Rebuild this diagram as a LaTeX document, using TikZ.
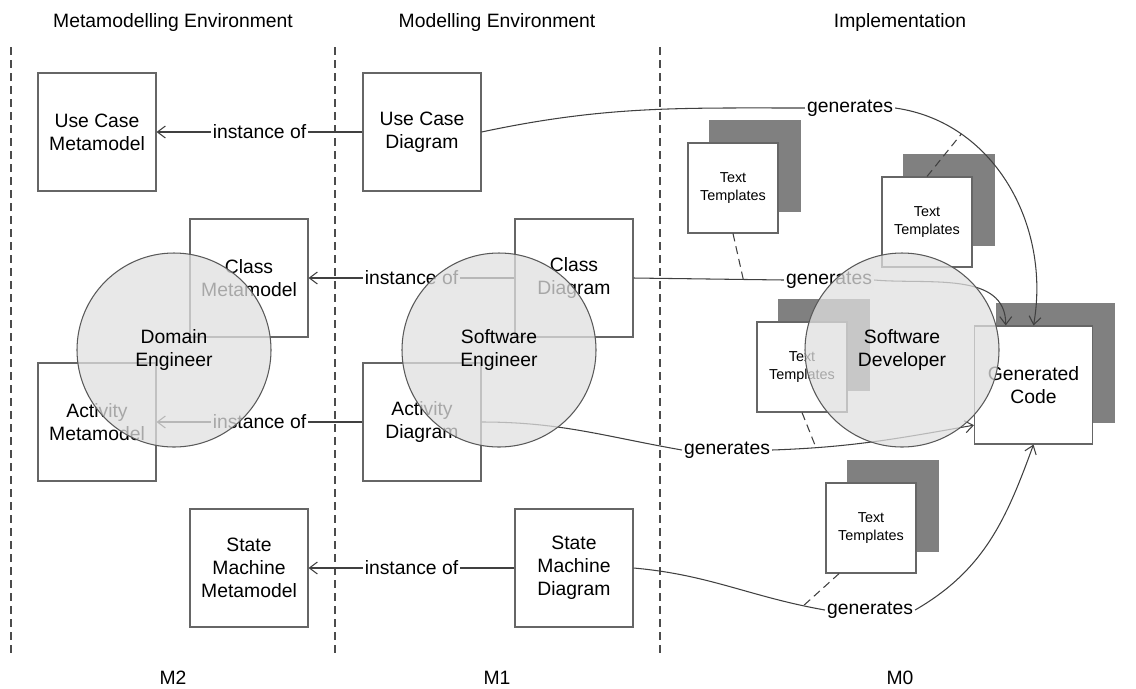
\documentclass[tikz,border=0pt]{standalone}
\usepackage{fontspec}
\setmainfont{Liberation Sans}
\usetikzlibrary{arrows.meta,shadows}
\tikzset{
    box/.style={rectangle, draw=black!60, fill=white, line width=0.6pt,
    	minimum size=2.36cm, inner sep=0pt, align=center,
    	font=\fontsize{11}{13}\selectfont}
}
\tikzset{
    tmpl/.style={rectangle, draw=black!60, fill=white, line width=0.6pt,
    	minimum size=1.8cm, inner sep=0pt, align=center,
    	font=\fontsize{8.2}{10.2}\selectfont,
    	copy shadow={shadow xshift=0.44cm, shadow yshift=0.44cm,
    		fill=black!50, draw=black!50}},
    codebox/.style={box,
    	copy shadow={shadow xshift=0.44cm, shadow yshift=0.44cm,
    		fill=black!50, draw=black!50}}
}
\tikzset{
    actor/.style={circle, draw=black!65, line width=0.6pt, fill=black!12,
    	fill opacity=0.75, text opacity=1, minimum size=3.88cm,
    	inner sep=0pt, align=center, font=\fontsize{11}{13}\selectfont},
    lbl/.style={fill=white, inner sep=1pt, font=\fontsize{11}{13}\selectfont},
    head/.style={inner sep=1pt, font=\fontsize{11}{13}\selectfont}
}
\tikzset{
    link/.style={draw=black!75, line width=0.6pt},
    tie/.style={draw=black!75, line width=0.6pt, dash pattern=on 1.6mm off 1mm},
    sep/.style={draw=black!70, line width=0.6pt, dash pattern=on 1.6mm off 1mm}
}

\begin{document}
\begin{tikzpicture}[>={Straight Barb[length=1.6mm,width=2.4mm]}]
	\useasboundingbox (0cm, 0cm) rectangle (22.72cm, -13.76cm);
	\foreach \x in {0.22, 6.70, 13.20}
		\draw[sep] (\x cm, -0.94cm) -- (\x cm, -13.06cm);

	\node (h2) [head] at ( 3.46cm,  -0.44cm) {Metamodelling Environment};
	\node (h1) [head] at ( 9.94cm,  -0.44cm) {Modelling Environment};
	\node (h0) [head] at (18.00cm,  -0.44cm) {Implementation};
	\node (m2) [head] at ( 3.46cm, -13.56cm) {M2};
	\node (m1) [head] at ( 9.94cm, -13.56cm) {M1};
	\node (m0) [head] at (18.00cm, -13.56cm) {M0};

	\node (ucm) [box] at ( 1.94cm,  -2.64cm) {Use Case\\Metamodel};
	\node (cm)  [box] at ( 4.98cm,  -5.56cm) {Class\\Metamodel};
	\node (am)  [box] at ( 1.94cm,  -8.44cm) {Activity\\Metamodel};
	\node (smm) [box] at ( 4.98cm, -11.36cm) {State\\Machine\\Metamodel};
	\node (ucd) [box] at ( 8.44cm,  -2.64cm) {Use Case\\Diagram};
	\node (cd)  [box] at (11.48cm,  -5.56cm) {Class\\Diagram};
	\node (ad)  [box] at ( 8.44cm,  -8.44cm) {Activity\\Diagram};
	\node (smd) [box] at (11.48cm, -11.36cm) {State\\Machine\\Diagram};

	\node (tt1) [tmpl] at (14.66cm,  -3.76cm) {Text\\Templates};
	\node (tt2) [tmpl] at (18.54cm,  -4.44cm) {Text\\Templates};
	\node (tt3) [tmpl] at (16.04cm,  -7.34cm) {Text\\Templates};
	\node (tt4) [tmpl] at (17.42cm, -10.56cm) {Text\\Templates};
	\node (code) [codebox] at (20.67cm, -7.70cm) {Generated\\Code};

	\draw[link,->] (ucd) -- node[lbl] (io1) {instance of} (ucm);
	\draw[link,->] (cd)  -- node[lbl] (io2) {instance of} (cm);
	\draw[link,->] (ad)  -- node[lbl] (io3) {instance of} (am);
	\draw[link,->] (smd) -- node[lbl] (io4) {instance of} (smm);

	\node (g1) [lbl] at (17.00cm,  -2.16cm) {generates};
	\node (g2) [lbl] at (16.58cm,  -5.60cm) {generates};
	\node (g3) [lbl] at (14.54cm,  -9.00cm) {generates};
	\node (g4) [lbl] at (17.40cm, -12.20cm) {generates};

	\draw[link] (ucd.east) to[out=12, in=180] (g1.west);
	\draw[link,->] (g1.east) to[out=-8, in=80] coordinate[pos=0.25] (p1) (code.north);
	\draw[link] (cd.east) -- coordinate[pos=0.73] (p2) (g2.west);
	\draw[link,->] (g2.east) to[out=-5, in=90] (code.115);
	\draw[link] (ad.east) to[out=0, in=170] (g3.west);
	\draw[link,->] (g3.east) to[out=2, in=190] coordinate[pos=0.2] (p3) (code.214);
	\draw[link] (smd.east) to[out=-5, in=170] coordinate[pos=0.9] (p4) (g4.west);
	\draw[link,->] (g4.east) to[out=30, in=-110] (code.south);

	\draw[tie] (tt1.south) -- (p2);
	\draw[tie] (tt2.north) -- (p1);
	\draw[tie] (tt3.south) -- (p3);
	\draw[tie] (tt4.235) -- (p4);

	\node (de) [actor] at ( 3.48cm, -7.00cm) {Domain\\Engineer};
	\node (se) [actor] at ( 9.98cm, -7.00cm) {Software\\Engineer};
	\node (sd) [actor] at (18.04cm, -7.00cm) {Software\\Developer};
\end{tikzpicture}
\end{document}
